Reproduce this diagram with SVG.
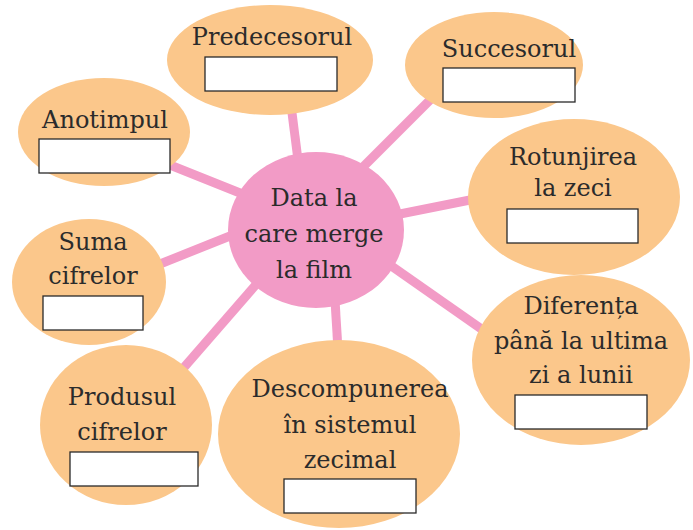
<svg xmlns="http://www.w3.org/2000/svg" width="693" height="530" viewBox="0 0 693 530">
<style>
.c{stroke:#f29bc6;stroke-width:9;stroke-linecap:butt}
.n{fill:#fbc78b}
.b{fill:#fff;stroke:#2a2a2a;stroke-width:1.3}
text{font-family:"DejaVu Serif","Liberation Serif",serif;font-size:24px;fill:#2b2b2b;text-anchor:middle}
</style>
<rect width="693" height="530" fill="#fff"/>
<g id="connectors">
<line class="c" x1="298" y1="160" x2="291" y2="105"/>
<line class="c" x1="360" y1="170" x2="435" y2="95"/>
<line class="c" x1="245" y1="195" x2="170" y2="165"/>
<line class="c" x1="395" y1="215" x2="480" y2="198"/>
<line class="c" x1="240" y1="232" x2="150" y2="268"/>
<line class="c" x1="390" y1="265" x2="490" y2="335"/>
<line class="c" x1="260" y1="280" x2="160" y2="395"/>
<line class="c" x1="335" y1="300" x2="338" y2="350"/>
</g>
<g id="center">
<ellipse cx="316" cy="230" rx="88" ry="78" fill="#f29bc6"/>
<text x="314" y="206">Data la</text>
<text x="314" y="242">care merge</text>
<text x="314" y="278">la film</text>
</g>
<g id="predecesorul">
<ellipse class="n" cx="270" cy="60" rx="103" ry="55"/>
<text x="272" y="45">Predecesorul</text>
<rect class="b" x="205" y="57" width="132" height="34"/>
</g>
<g id="succesorul">
<ellipse class="n" cx="494" cy="65" rx="89" ry="53"/>
<text x="509" y="57">Succesorul</text>
<rect class="b" x="443" y="68" width="132" height="34"/>
</g>
<g id="anotimpul">
<ellipse class="n" cx="104" cy="132" rx="86" ry="54"/>
<text x="105" y="128">Anotimpul</text>
<rect class="b" x="39" y="139" width="131" height="34"/>
</g>
<g id="rotunjirea">
<ellipse class="n" cx="574" cy="197" rx="106" ry="78"/>
<text x="573" y="165">Rotunjirea</text>
<text x="573" y="196">la zeci</text>
<rect class="b" x="507" y="209" width="131" height="34"/>
</g>
<g id="suma">
<ellipse class="n" cx="89" cy="282" rx="77" ry="63"/>
<text x="93" y="250">Suma</text>
<text x="93" y="284">cifrelor</text>
<rect class="b" x="43" y="296" width="100" height="34"/>
</g>
<g id="diferenta">
<ellipse class="n" cx="581" cy="360" rx="109" ry="85"/>
<text x="581" y="314">Diferența</text>
<text x="581" y="349">până la ultima</text>
<text x="581" y="383">zi a lunii</text>
<rect class="b" x="515" y="395" width="132" height="34"/>
</g>
<g id="produsul">
<ellipse class="n" cx="126" cy="425" rx="86" ry="80"/>
<text x="122" y="405">Produsul</text>
<text x="122" y="440">cifrelor</text>
<rect class="b" x="70" y="452" width="128" height="34"/>
</g>
<g id="descompunerea">
<ellipse class="n" cx="339" cy="434" rx="121" ry="94"/>
<text x="350" y="397">Descompunerea</text>
<text x="350" y="433">în sistemul</text>
<text x="350" y="468">zecimal</text>
<rect class="b" x="284" y="479" width="132" height="34"/>
</g>
</svg>
